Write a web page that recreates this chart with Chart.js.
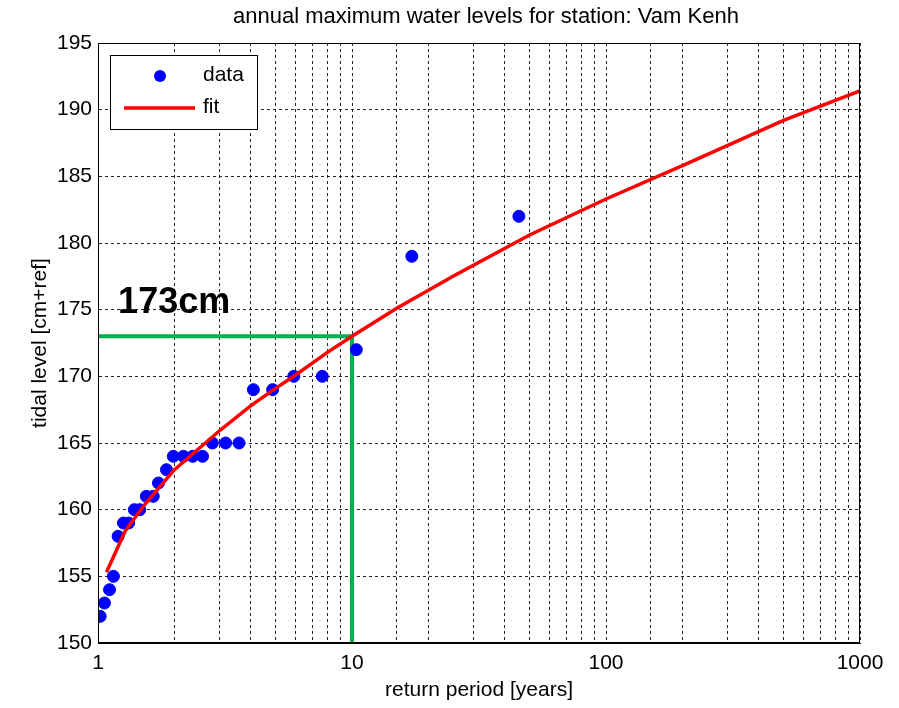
<!DOCTYPE html>
<html>
<head>
<meta charset="utf-8">
<script src="https://cdn.jsdelivr.net/npm/chart.js@4/dist/chart.umd.min.js"></script>
<style>
  html, body { margin: 0; padding: 0; background: #fff; }
  #wrap { width: 899px; height: 708px; position: relative; }
</style>
</head>
<body>
<div id="wrap"><canvas id="chart"></canvas></div>
<script>
// observed annual maxima (return period in years, level in cm)
const dataPeriod = [1.02, 1.06, 1.11, 1.15, 1.2, 1.26, 1.32, 1.39, 1.46, 1.55, 1.65, 1.73, 1.86,
  1.98, 2.17, 2.36, 2.58, 2.82, 3.18, 3.59, 4.09, 4.87, 5.9, 7.64, 10.4, 17.2, 45.4]
const dataLevel = [152, 153, 154, 155, 158, 159, 159, 160, 160, 161, 161, 162, 163,
  164, 164, 164, 164, 165, 165, 165, 169, 169, 170, 170, 172, 179, 182]

// fitted distribution
const fitPeriod = [1.08, 1.28, 1.53, 2, 3, 4, 5, 6, 8, 10, 15, 25, 50, 100, 200, 500, 1000]
const fitLevel = [155.3, 158.4, 160.4, 163, 165.9, 167.8, 169.1, 170.1, 171.8, 173, 175.1,
  177.5, 180.6, 183.3, 185.8, 189.2, 191.4]

// design level read-off
const designPeriod = 10
const designLevel = 173
const designText = "173cm"

const yTicks = [150, 155, 160, 165, 170, 175, 180, 185, 190, 195]
const xMin = 1, xMax = 1000

const titleText = "annual maximum water levels for station: Vam Kenh"

const FONT = "'Liberation Sans', Arial, sans-serif"
const gridStyle = { color: "rgba(0,0,0,0.85)", lineWidth: 1, drawTicks: false }
const borderStyle = { display: true, color: "#000", width: 1, dash: [3, 3] }

const boxAndLabels = {
  id: "boxAndLabels",
  afterDatasetsDraw(chart) {
    const { ctx, chartArea: a, scales } = chart
    ctx.save()
    ctx.setLineDash([])
    ctx.strokeStyle = "#000"
    ctx.lineWidth = 1
    ctx.strokeRect(a.left + 0.5, a.top + 0.5, a.right - a.left - 1, a.bottom - a.top - 1)

    // title
    ctx.fillStyle = "#000"
    ctx.font = "22px " + FONT
    ctx.textAlign = "center"
    ctx.textBaseline = "middle"
    ctx.fillText(titleText, (a.left + a.right) / 2 + 7, 17)

    // big annotation
    ctx.textAlign = "left"
    ctx.font = "bold 36px " + FONT
    ctx.textBaseline = "alphabetic"
    ctx.fillText(designText, scales.x.getPixelForValue(1.2), scales.y.getPixelForValue(174.75))

    // legend
    const lx = a.left + 12, ly = a.top + 12, lw = 147, lh = 74
    ctx.fillStyle = "#fff"
    ctx.fillRect(lx, ly, lw, lh)
    ctx.strokeRect(lx + 0.5, ly + 0.5, lw, lh)
    ctx.fillStyle = "#0000ff"
    ctx.beginPath()
    ctx.arc(lx + 50, ly + 21, 6, 0, Math.PI * 2)
    ctx.fill()
    ctx.strokeStyle = "#ff0000"
    ctx.lineWidth = 3.5
    ctx.beginPath()
    ctx.moveTo(lx + 14, ly + 53)
    ctx.lineTo(lx + 85, ly + 53)
    ctx.stroke()
    ctx.fillStyle = "#000"
    ctx.font = "21px " + FONT
    ctx.textBaseline = "middle"
    ctx.fillText("data", lx + 93, ly + 20)
    ctx.fillText("fit", lx + 93, ly + 52)
    ctx.restore()
  }
}

new Chart(document.getElementById("chart"), {
  type: "scatter",
  data: {
    datasets: [
      {
        label: "data",
        data: dataPeriod.map((t, i) => ({ x: t, y: dataLevel[i] })),
        backgroundColor: "#0000ff",
        borderColor: "#0000ff",
        pointRadius: 6,
        pointHoverRadius: 6,
        order: 2
      },
      {
        label: "fit",
        data: fitPeriod.map((t, i) => ({ x: t, y: fitLevel[i] })),
        showLine: true,
        borderColor: "#ff0000",
        borderWidth: 3.5,
        pointRadius: 0,
        tension: 0,
        order: 1
      },
      {
        label: "design",
        data: [
          { x: xMin, y: designLevel },
          { x: designPeriod, y: designLevel },
          { x: designPeriod, y: yTicks[0] }
        ],
        showLine: true,
        borderColor: "#00b050",
        borderWidth: 4,
        pointRadius: 0,
        tension: 0,
        order: 3
      }
    ]
  },
  options: {
    responsive: true,
    maintainAspectRatio: false,
    animation: false,
    layout: { padding: { left: 0, right: 39, top: 43, bottom: 0 } },
    plugins: {
      legend: { display: false },
      tooltip: { enabled: false },
      title: { display: false }
    },
    scales: {
      x: {
        type: "logarithmic",
        min: xMin,
        max: xMax,
        afterFit: s => { s.height = 65 },
        grid: gridStyle,
        border: borderStyle,
        ticks: {
          autoSkip: false,
          maxRotation: 0,
          padding: 8,
          color: "#000",
          font: { family: FONT, size: 21 },
          callback: v => {
            const l = Math.log10(v)
            return Math.abs(l - Math.round(l)) < 1e-9 ? String(v) : ""
          }
        },
        title: {
          display: true,
          text: "return period [years]",
          color: "#000",
          font: { family: FONT, size: 21 },
          padding: { top: 0, bottom: 5 }
        }
      },
      y: {
        min: yTicks[0],
        max: yTicks[yTicks.length - 1],
        afterFit: s => { s.width = 98 },
        afterBuildTicks: s => { s.ticks = yTicks.map(v => ({ value: v })) },
        grid: gridStyle,
        border: borderStyle,
        ticks: {
          padding: 6,
          color: "#000",
          font: { family: FONT, size: 21 }
        },
        title: {
          display: true,
          text: "tidal level [cm+ref]",
          color: "#000",
          font: { family: FONT, size: 21 },
          padding: { top: 28, bottom: 0 }
        }
      }
    }
  },
  plugins: [boxAndLabels]
})
</script>
</body>
</html>
